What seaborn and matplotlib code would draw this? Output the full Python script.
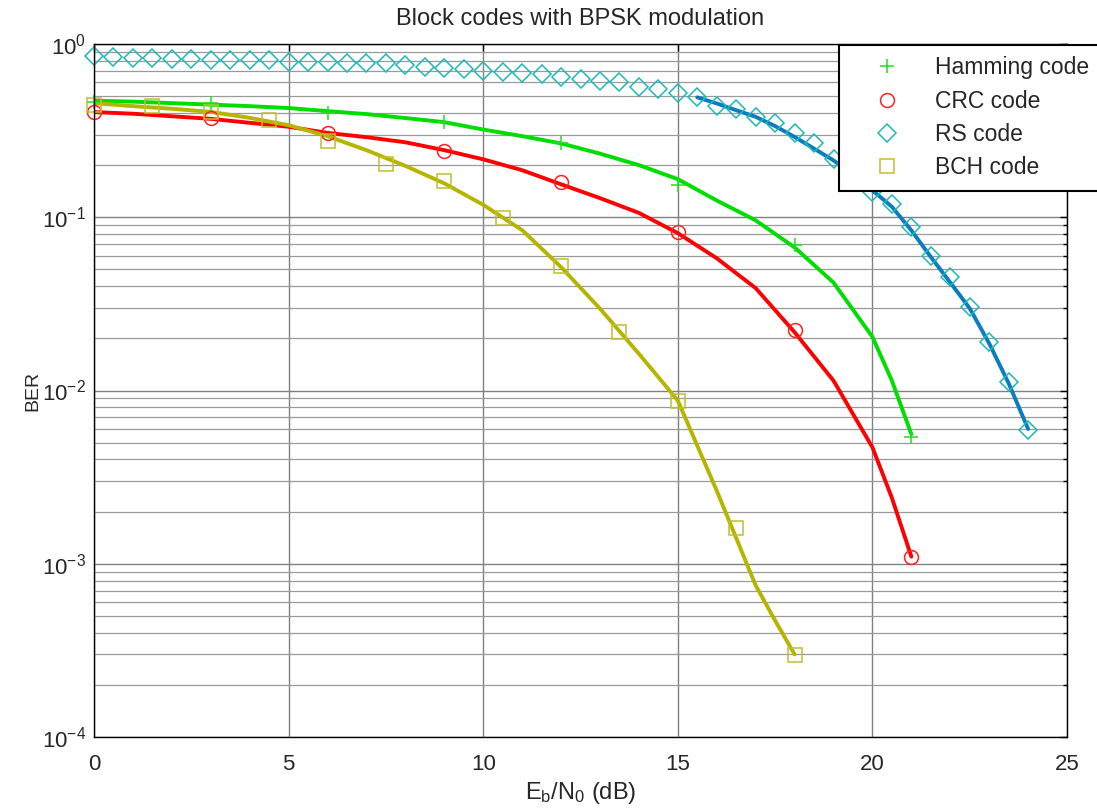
import numpy as np
import pandas as pd
import seaborn as sns
import matplotlib.pyplot as plt
from matplotlib.ticker import LogLocator, NullFormatter

# Eb/N0 grid (dB) for the simulated curves
ham_x = [0, 1, 2, 3, 4, 5, 6, 7, 8, 9, 10, 11, 12, 13, 14, 15, 16, 17, 18, 19, 20, 20.5, 21]
ham_y = [0.471, 0.465, 0.456, 0.447, 0.438, 0.427, 0.410, 0.394, 0.374, 0.354, 0.321, 0.294,
         0.267, 0.233, 0.200, 0.166, 0.125, 0.096, 0.067, 0.042, 0.0204, 0.0114, 0.0056]

crc_x = [0, 1, 2, 3, 4, 5, 6, 7, 8, 9, 10, 11, 12, 13, 14, 15, 16, 17, 18, 19, 20, 20.5, 21]
crc_y = [0.405, 0.396, 0.383, 0.370, 0.351, 0.333, 0.307, 0.290, 0.271, 0.244, 0.216, 0.187,
         0.155, 0.129, 0.106, 0.081, 0.058, 0.039, 0.0217, 0.0114, 0.0047, 0.0024, 0.0011]

bch_x = [0, 1, 2, 3, 4, 5, 6, 7, 8, 9, 10, 11, 12, 13, 14, 15, 16, 17, 17.5, 18]
bch_y = [0.456, 0.438, 0.423, 0.406, 0.375, 0.340, 0.294, 0.244, 0.198, 0.157, 0.118, 0.0843,
         0.0516, 0.0297, 0.0163, 0.00875, 0.00264, 0.00075, 0.00047, 0.0003]

rs_line_x = [15.5, 16, 16.5, 17, 17.5, 18, 18.5, 19, 19.5, 20, 20.5, 21, 21.5, 22, 22.5, 23, 23.5, 24]
rs_line_y = [0.492, 0.454, 0.415, 0.380, 0.336, 0.291, 0.249, 0.213, 0.175, 0.143, 0.115, 0.084,
             0.059, 0.042, 0.0298, 0.0187, 0.011, 0.006]

# marker points
ham_mx = [0, 3, 6, 9, 12, 15, 18, 21]
ham_my = [0.465, 0.456, 0.400, 0.354, 0.268, 0.153, 0.069, 0.0054]

crc_mx = [0, 3, 6, 9, 12, 15, 18, 21]
crc_my = [0.406, 0.375, 0.305, 0.242, 0.159, 0.0817, 0.0225, 0.0011]

rs_mx = [i * 0.5 for i in range(49)]
rs_my = [0.852, 0.845, 0.833, 0.827, 0.819, 0.816, 0.808, 0.808, 0.808, 0.808, 0.790, 0.790,
         0.790, 0.780, 0.780, 0.773, 0.757, 0.739, 0.724, 0.714, 0.701, 0.692, 0.683, 0.671,
         0.642, 0.625, 0.609, 0.601, 0.567, 0.547, 0.519, 0.492, 0.438, 0.419, 0.380, 0.351,
         0.306, 0.267, 0.216, 0.175, 0.140, 0.119, 0.088, 0.0596, 0.0452, 0.0303, 0.019,
         0.0112, 0.0059]

bch_mx = [0, 1.5, 3, 4.5, 6, 7.5, 9, 10.5, 12, 13.5, 15, 16.5, 18]
bch_my = [0.444, 0.438, 0.406, 0.364, 0.275, 0.202, 0.162, 0.0987, 0.052, 0.0219, 0.00875,
          0.0016, 0.000298]

sns.set_style('white')
plt.rcParams['font.family'] = ['Liberation Sans', 'DejaVu Sans']
plt.rcParams['mathtext.fontset'] = 'custom'
plt.rcParams['mathtext.rm'] = 'Liberation Sans'
plt.rcParams['mathtext.it'] = 'Liberation Sans'

fig = plt.figure(figsize=(10.97, 8.11), dpi=100)
ax = fig.add_axes([0.0857, 0.0912, 0.887, 0.8545])

green = '#00DD00'
red = '#FF0000'
olive = '#B5B500'
cyan = '#1FB8B8'
blue = '#0A7CC0'

sns.lineplot(x=ham_x, y=ham_y, color=green, linewidth=2.8, ax=ax)
sns.lineplot(x=crc_x, y=crc_y, color=red, linewidth=2.8, ax=ax)
sns.lineplot(x=bch_x, y=bch_y, color=olive, linewidth=2.8, ax=ax)
sns.lineplot(x=rs_line_x, y=rs_line_y, color=blue, linewidth=2.8, ax=ax)

mk = dict(linestyle='', markeredgewidth=1.1, markerfacecolor='none', clip_on=False, ax=ax)
sns.lineplot(x=ham_mx, y=ham_my, marker='+', markersize=10.5, color='#22DD22',
             markeredgecolor='#22DD22', label='Hamming code', **mk)
sns.lineplot(x=crc_mx, y=crc_my, marker='o', markersize=10, color='#FF2020',
             markeredgecolor='#FF2020', label='CRC code', **mk)
sns.lineplot(x=rs_mx, y=rs_my, marker='D', markersize=9, color=cyan,
             markeredgecolor=cyan, label='RS code', **mk)
sns.lineplot(x=bch_mx, y=bch_my, marker='s', markersize=10.5, color='#C0C030',
             markeredgecolor='#C0C030', label='BCH code', **mk)

ax.set_yscale('log')
ax.set_xlim(0, 25)
ax.set_ylim(1e-4, 1)
ax.set_xticks([0, 5, 10, 15, 20, 25])
ax.yaxis.set_major_locator(LogLocator(base=10, numticks=10))
ax.yaxis.set_minor_locator(LogLocator(base=10, subs=np.arange(2, 10), numticks=10))
ax.yaxis.set_minor_formatter(NullFormatter())

ax.grid(True, which='major', axis='both', color='#808080', linewidth=1.0)
ax.grid(True, which='minor', axis='y', color='#9a9a9a', linewidth=0.9)
ax.set_axisbelow(True)

ax.tick_params(which='both', direction='in', top=True, right=True, labelsize=16, color='black')
ax.tick_params(which='major', length=5, width=1)
ax.tick_params(which='minor', length=3, width=1)
ax.tick_params(axis='x', pad=12)
ax.tick_params(axis='y', pad=6)
for s in ax.spines.values():
    s.set_color('black')
    s.set_linewidth(1.0)

ax.set_title('Block codes with BPSK modulation', fontsize=17, pad=14)
ax.set_xlabel(r'E$_\mathrm{b}$/N$_\mathrm{0}$ (dB)', fontsize=17, labelpad=4)
ax.set_ylabel('BER', fontsize=14, labelpad=0)

leg = ax.legend(loc='upper left', bbox_to_anchor=(839 / 1097, 1 - 45 / 811),
                bbox_transform=fig.transFigure, fontsize=16.5, frameon=True, fancybox=False,
                borderpad=0.5, labelspacing=0.45, handlelength=3.2, handletextpad=0.5,
                borderaxespad=0)
leg.get_frame().set_edgecolor('black')
leg.get_frame().set_linewidth(1.5)
leg.get_frame().set_alpha(1)

fig.savefig('out.png', dpi=100)
